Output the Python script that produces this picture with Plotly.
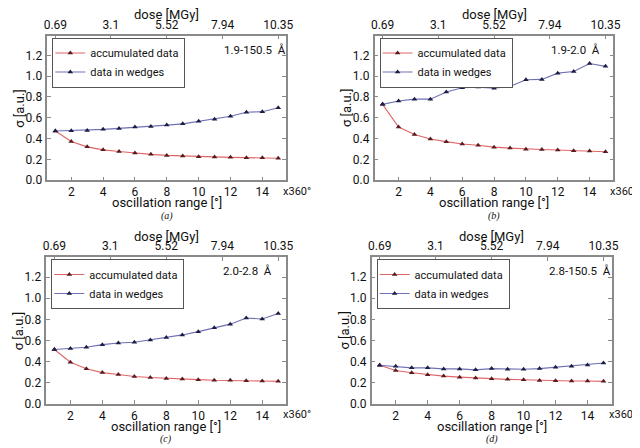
import plotly.graph_objects as go

# ---------------- data ----------------
osc = list(range(1, 16))
osc_ticks = [2, 4, 6, 8, 10, 12, 14]
dose_ticks = [0.69, 3.1, 5.52, 7.94, 10.35]
dose_per_turn = 0.69
y_ticks = [0.0, 0.2, 0.4, 0.6, 0.8, 1.0, 1.2]

acc_a = [0.473, 0.372, 0.321, 0.292, 0.277, 0.261, 0.249, 0.239, 0.233, 0.227, 0.223, 0.220, 0.217, 0.216, 0.211]
wed_a = [0.473, 0.476, 0.479, 0.489, 0.498, 0.511, 0.517, 0.530, 0.542, 0.568, 0.587, 0.615, 0.653, 0.659, 0.697]

acc_b = [0.729, 0.511, 0.440, 0.396, 0.371, 0.349, 0.337, 0.318, 0.309, 0.299, 0.296, 0.290, 0.284, 0.281, 0.274]
wed_b = [0.729, 0.761, 0.779, 0.779, 0.848, 0.888, 0.895, 0.885, 0.901, 0.966, 0.969, 1.029, 1.044, 1.122, 1.094]

acc_c = [0.514, 0.394, 0.332, 0.295, 0.277, 0.258, 0.249, 0.240, 0.234, 0.228, 0.222, 0.222, 0.218, 0.215, 0.212]
wed_c = [0.514, 0.523, 0.535, 0.560, 0.575, 0.582, 0.603, 0.628, 0.652, 0.683, 0.720, 0.754, 0.812, 0.803, 0.855]

acc_d = [0.364, 0.315, 0.293, 0.274, 0.262, 0.252, 0.243, 0.237, 0.231, 0.227, 0.221, 0.218, 0.215, 0.215, 0.212]
wed_d = [0.364, 0.355, 0.340, 0.340, 0.330, 0.330, 0.321, 0.333, 0.327, 0.327, 0.333, 0.346, 0.355, 0.368, 0.386]

res_labels = ["1.9-150.5", "1.9-2.0", "2.0-2.8", "2.8-150.5"]
captions = ["(a)", "(b)", "(c)", "(d)"]
series_names = ["accumulated data", "data in wedges"]

acc_all = [acc_a, acc_b, acc_c, acc_d]
wed_all = [wed_a, wed_b, wed_c, wed_d]

# ---------------- layout ----------------
W, H = 640, 448
# panel frames in pixels: (left, right, top, bottom)
frames = [(36, 279, 28, 175), (369, 612, 28, 175), (35, 279, 253, 402), (366, 610, 253, 402)]

FONT = "Roboto"
TXT = "#111111"
FRAME = "#8a8a8a"
RED_LINE = "#e06666"
BLUE_LINE = "#7070b4"
RED_MK = "#5a1a24"
BLUE_MK = "#1c1c44"

TICK_SIZE = 12
TITLE_SIZE = 13
LEG_SIZE = 11

fig = go.Figure()
layout = dict(
    width=W, height=H, autosize=False,
    margin=dict(l=0, r=0, t=0, b=0),
    paper_bgcolor="white", plot_bgcolor="white",
    font=dict(family=FONT, size=TICK_SIZE, color=TXT),
    annotations=[],
)

x_range = [0.5, 15.5]
y_range = [0, 1.39]

for i in range(4):
    n = i + 1
    nt = i + 5
    l, r, t, b = frames[i]
    xd = [l / W, r / W]
    yd = [1 - b / H, 1 - t / H]
    xa = f"x{n}" if n > 1 else "x"
    ya = f"y{n}" if n > 1 else "y"
    legname = "legend" if n == 1 else f"legend{n}"

    fig.add_trace(go.Scatter(
        x=osc, y=acc_all[i], mode="lines+markers", name=series_names[0],
        line=dict(color=RED_LINE, width=1.1),
        marker=dict(symbol="triangle-up", size=5, color=RED_MK),
        xaxis=xa, yaxis=ya, legend=legname))
    fig.add_trace(go.Scatter(
        x=osc, y=wed_all[i], mode="lines+markers", name=series_names[1],
        line=dict(color=BLUE_LINE, width=1.1),
        marker=dict(symbol="triangle-up", size=5, color=BLUE_MK),
        xaxis=xa, yaxis=ya, legend=legname))
    # invisible trace binding the top dose axis
    fig.add_trace(go.Scatter(
        x=dose_ticks, y=[None] * len(dose_ticks), mode="markers",
        xaxis=f"x{nt}", yaxis=ya, showlegend=False, hoverinfo="skip"))

    common = dict(showgrid=False, zeroline=False, showline=True, linecolor=FRAME,
                  linewidth=1.5, ticks="inside", ticklen=4, tickcolor=FRAME,
                  tickfont=dict(family=FONT, size=TICK_SIZE, color=TXT))
    layout[f"xaxis{n}"] = dict(
        domain=xd, anchor=ya, range=x_range, tickmode="array",
        tickvals=osc_ticks, ticktext=[str(v) for v in osc_ticks],
        mirror=True, **common)
    layout[f"yaxis{n}"] = dict(
        domain=yd, anchor=xa, range=y_range, tickmode="array",
        tickvals=y_ticks, ticktext=[f"{v:.1f}" for v in y_ticks],
        mirror="ticks", ticklabelstandoff=1, **common)
    layout[f"xaxis{nt}"] = dict(
        overlaying=xa, anchor=ya, side="top",
        range=[x_range[0] * dose_per_turn, x_range[1] * dose_per_turn],
        tickmode="array", tickvals=dose_ticks,
        ticktext=[f"{v:g}" for v in dose_ticks], **common)

    layout[legname] = dict(
        x=(l + 5) / W, y=1 - (t + 2) / H, xanchor="left", yanchor="top",
        bordercolor="#555555", borderwidth=1, bgcolor="white",
        font=dict(family=FONT, size=LEG_SIZE, color=TXT), itemwidth=30,
        indentation=-3, tracegroupgap=0)

    ann = layout["annotations"]
    xdom = f"{xa} domain"
    ydom = f"{ya} domain"
    # resolution label
    ann.append(dict(text=res_labels[i] + "\u00a0\u00a0Å", xref=xdom, yref=ydom,
                    x=0.73, y=1, xanchor="left", yanchor="middle", yshift=-14,
                    showarrow=False, font=dict(family=FONT, size=11.5, color=TXT)))
    # top axis title
    ann.append(dict(text="dose [MGy]", xref=xdom, yref="paper", x=0.5,
                    y=1 - (t - 21) / H, yanchor="middle", showarrow=False,
                    font=dict(family=FONT, size=TITLE_SIZE, color=TXT)))
    # bottom axis title
    ann.append(dict(text="oscillation range [°]", xref=xdom, yref="paper", x=0.5,
                    y=1 - (b + 23) / H, yanchor="middle", showarrow=False,
                    font=dict(family=FONT, size=TITLE_SIZE, color=TXT)))
    # x360 unit
    ann.append(dict(text="x360°", xref=xdom, yref="paper", x=1,
                    y=1 - (b + 11) / H, xanchor="left", yanchor="middle", xshift=-5,
                    showarrow=False, font=dict(family=FONT, size=11, color=TXT)))
    # y axis title
    ann.append(dict(text="σ [a.u.]", xref="paper", yref=ydom, x=(l - 28) / W, y=0.5,
                    xanchor="center", yanchor="middle", textangle=-90,
                    showarrow=False, font=dict(family=FONT, size=TITLE_SIZE, color=TXT)))
    # caption
    ann.append(dict(text=captions[i], xref=xdom, yref="paper", x=0.5,
                    y=1 - (b + 36) / H, yanchor="middle", showarrow=False,
                    font=dict(family="Liberation Serif", size=10, color=TXT, style="italic")))

fig.update_layout(**layout)
fig.write_html("out.html")
